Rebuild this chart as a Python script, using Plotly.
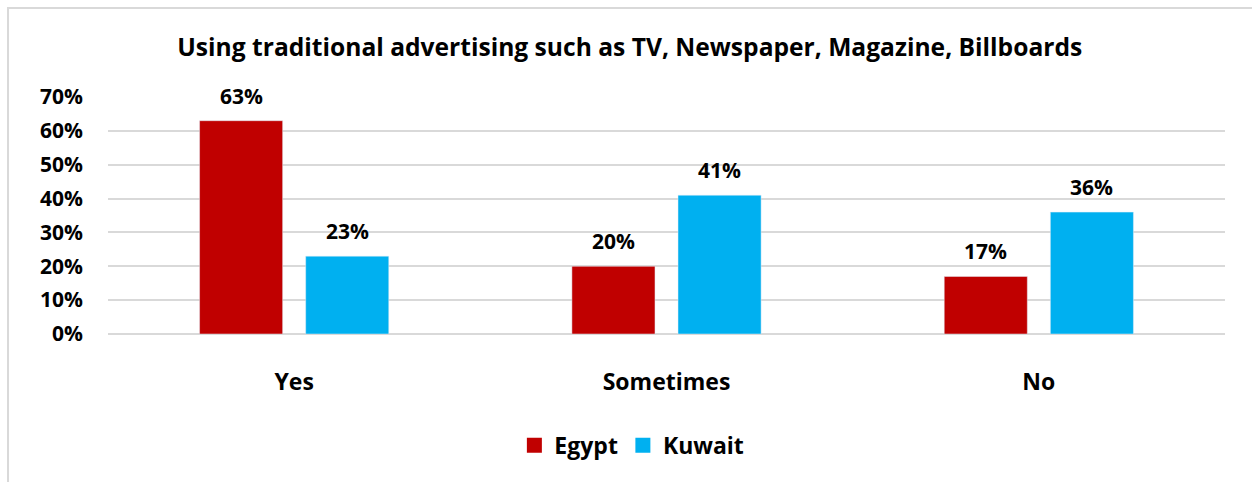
import plotly.graph_objects as go

categories = ["Yes", "Sometimes", "No"]
egypt = [63, 20, 17]
kuwait = [23, 41, 36]
y_ticks = [0, 10, 20, 30, 40, 50, 60, 70]
y_tick_labels = [f"{v}%" for v in y_ticks]

FONT = "Open Sans"
RED = "#C00000"
BLUE = "#00B0F0"

fig = go.Figure()
fig.add_trace(go.Bar(name="Egypt", x=categories, y=egypt, marker_color=RED, showlegend=False))
fig.add_trace(go.Bar(name="Kuwait", x=categories, y=kuwait, marker_color=BLUE, showlegend=False))

# legend keys: larger square swatches than the default bar symbol
for name, color in (("Egypt", RED), ("Kuwait", BLUE)):
    fig.add_trace(go.Scatter(
        name=name, x=[None], y=[None], mode="markers",
        marker=dict(symbol="square", size=15, color=color),
        showlegend=True, hoverinfo="skip",
    ))

# value labels above each bar
for vals, shift in ((egypt, -53), (kuwait, 53)):
    for cat, v in zip(categories, vals):
        fig.add_annotation(
            x=cat, y=v, text=f"{v}%", showarrow=False,
            xshift=shift, yshift=9, yanchor="bottom",
            font=dict(family=FONT, size=21, color="black", weight="bold"),
        )

# outer chart frame
fig.add_shape(
    type="rect", xref="paper", yref="paper",
    x0=-0.0895, x1=1.05, y0=-0.7, y1=1.3755,
    line=dict(color="#D9D9D9", width=2), fillcolor="rgba(0,0,0,0)", layer="below",
)

fig.update_layout(
    width=1252, height=482,
    margin=dict(l=108, r=27, t=97, b=148),
    paper_bgcolor="white", plot_bgcolor="white",
    bargap=0.43, bargroupgap=0.217,
    title=dict(
        text="Using traditional advertising such as TV, Newspaper, Magazine, Billboards",
        x=0.503, xanchor="center", y=0.902, yanchor="middle",
        font=dict(family=FONT, size=24.6, color="black", weight="bold"),
    ),
    legend=dict(
        orientation="h", x=0.469, xanchor="center", y=-0.47, yanchor="middle",
        font=dict(family=FONT, size=23, color="black", weight="bold"),
        itemwidth=30, traceorder="normal", itemsizing="trace",
    ),
    xaxis=dict(
        showgrid=False, showline=False, ticks="",
        ticklabelstandoff=32,
        tickfont=dict(family=FONT, size=23, color="black", weight="bold"),
    ),
    yaxis=dict(
        range=[0, 70], tickvals=y_ticks, ticktext=y_tick_labels,
        showgrid=True, gridcolor="#D9D9D9", gridwidth=1.5,
        zeroline=True, zerolinecolor="#D9D9D9", zerolinewidth=1.5,
        showline=False, ticks="", ticklabelstandoff=24,
        tickfont=dict(family=FONT, size=21, color="black", weight="bold"),
    ),
    showlegend=True,
)

fig.write_html("out.html")
